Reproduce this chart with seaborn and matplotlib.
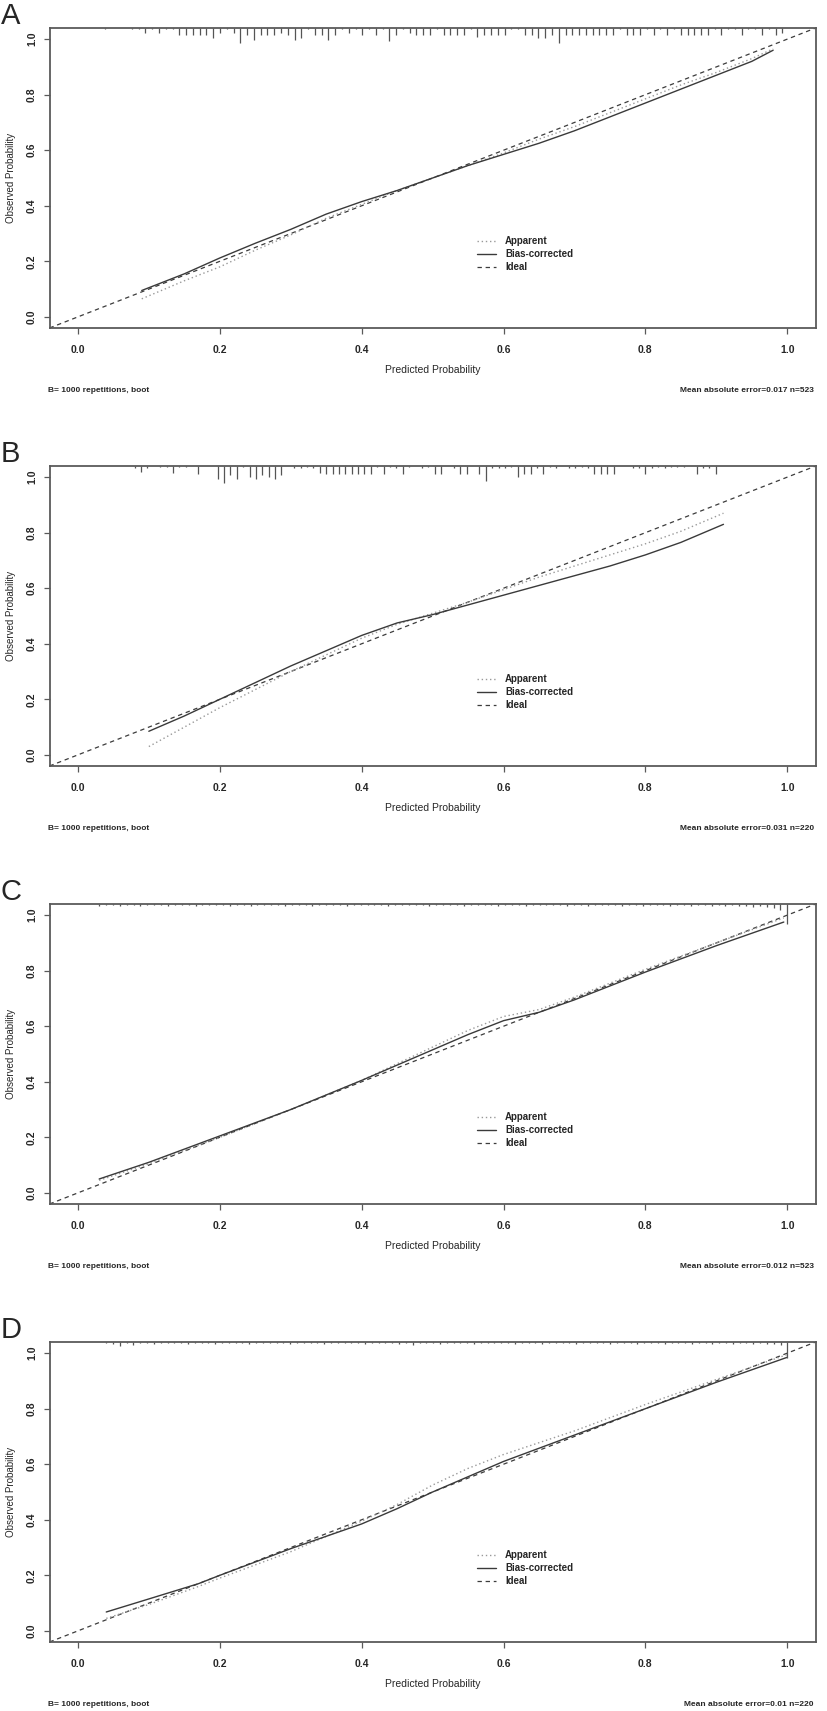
import numpy as np
import pandas as pd
import seaborn as sns
import matplotlib.pyplot as plt
from matplotlib import font_manager
from matplotlib.lines import Line2D

# ---- data ----
panel_labels = ["A", "B", "C", "D"]
footer_right = ["Mean absolute error=0.017 n=523", "Mean absolute error=0.031 n=220",
                "Mean absolute error=0.012 n=523", "Mean absolute error=0.01 n=220"]

# A
pred_a = [0.09, 0.15, 0.20, 0.25, 0.30, 0.35, 0.40, 0.45, 0.50, 0.55, 0.60, 0.65, 0.70, 0.75, 0.80, 0.85, 0.90, 0.95, 0.98]
bias_a = [0.095, 0.155, 0.212, 0.265, 0.315, 0.37, 0.415, 0.455, 0.50, 0.545, 0.585, 0.625, 0.67, 0.72, 0.77, 0.82, 0.87, 0.92, 0.96]
appar_a = [0.065, 0.13, 0.18, 0.24, 0.295, 0.355, 0.405, 0.455, 0.50, 0.545, 0.59, 0.64, 0.685, 0.735, 0.785, 0.835, 0.88, 0.93, 0.965]
# B
pred_b = [0.10, 0.15, 0.20, 0.25, 0.30, 0.35, 0.40, 0.45, 0.50, 0.55, 0.60, 0.65, 0.70, 0.75, 0.80, 0.85, 0.91]
bias_b = [0.085, 0.14, 0.20, 0.26, 0.32, 0.375, 0.43, 0.475, 0.505, 0.54, 0.575, 0.61, 0.645, 0.68, 0.72, 0.765, 0.83]
appar_b = [0.03, 0.10, 0.17, 0.235, 0.30, 0.36, 0.42, 0.47, 0.51, 0.55, 0.595, 0.64, 0.68, 0.72, 0.76, 0.805, 0.87]
# C
pred_c = [0.03, 0.10, 0.20, 0.30, 0.40, 0.45, 0.50, 0.55, 0.60, 0.65, 0.70, 0.80, 0.90, 0.995]
bias_c = [0.05, 0.11, 0.205, 0.30, 0.405, 0.46, 0.515, 0.57, 0.62, 0.65, 0.695, 0.795, 0.89, 0.975]
appar_c = [0.045, 0.105, 0.20, 0.30, 0.405, 0.465, 0.525, 0.585, 0.635, 0.66, 0.705, 0.805, 0.90, 0.99]
# D
pred_d = [0.04, 0.10, 0.17, 0.20, 0.30, 0.40, 0.45, 0.50, 0.55, 0.60, 0.70, 0.80, 0.90, 1.0]
bias_d = [0.068, 0.115, 0.17, 0.20, 0.296, 0.385, 0.44, 0.50, 0.555, 0.61, 0.705, 0.80, 0.895, 0.985]
appar_d = [0.045, 0.095, 0.16, 0.19, 0.285, 0.395, 0.455, 0.525, 0.585, 0.635, 0.72, 0.815, 0.905, 0.995]

# rug of predicted probabilities (spike length in pixels per bin)
rug_start = [0.038, 0.080, 0.030, 0.040]
rug_step = [0.00955, 0.0090, 0.0097, 0.0096]
rug_a = [1, 0, 0, 0, 1, 1, 5, 1, 5, 1, 1, 7, 7, 7, 7, 7, 10, 5, 1, 5,
         15, 7, 12, 7, 7, 7, 5, 7, 12, 10, 1, 7, 7, 12, 7, 1, 5, 1, 7, 1,
         7, 1, 13, 7, 1, 5, 7, 7, 7, 1, 7, 7, 7, 7, 1, 9, 7, 7, 7, 7,
         1, 1, 7, 7, 10, 10, 7, 15, 7, 7, 7, 7, 7, 7, 7, 7, 1, 7, 7, 7,
         1, 7, 1, 7, 1, 7, 7, 7, 7, 7, 1, 7, 1, 1, 7, 1, 1, 7, 1, 7, 5]
rug_b = [2, 6, 2, 0, 1, 1, 7, 1, 1, 0, 8, 0, 0, 13, 17, 9, 13, 1, 11, 13,
         9, 11, 13, 9, 0, 2, 2, 1, 2, 7, 8, 8, 8, 8, 8, 8, 8, 8, 1, 8,
         1, 2, 8, 1, 0, 2, 1, 8, 8, 0, 2, 8, 8, 0, 8, 15, 2, 2, 2, 1,
         11, 8, 8, 2, 8, 1, 2, 0, 2, 2, 1, 2, 8, 8, 8, 8, 0, 0, 2, 2,
         8, 2, 1, 2, 1, 1, 1, 0, 8, 2, 2, 8]
rug_c = [2, 1, 1, 2, 1, 1, 2, 1, 1, 1, 2, 1, 1, 1, 2, 1, 1, 1, 1, 2,
         1, 1, 2, 1, 1, 1, 1, 2, 1, 1, 1, 2, 1, 1, 1, 1, 2, 1, 1, 1,
         1, 1, 2, 1, 1, 1, 1, 1, 2, 1, 1, 1, 1, 2, 1, 1, 1, 1, 2, 1,
         1, 1, 2, 1, 1, 1, 1, 1, 2, 1, 1, 2, 1, 1, 1, 1, 2, 1, 1, 2,
         1, 1, 1, 2, 1, 1, 2, 1, 1, 2, 1, 2, 1, 2, 2, 3, 2, 3, 4, 6, 20]
rug_d = [1, 2, 4, 1, 3, 1, 1, 2, 1, 1, 1, 1, 2, 1, 1, 1, 2, 1, 1, 1,
         1, 2, 1, 1, 1, 1, 1, 2, 1, 1, 1, 1, 2, 1, 1, 1, 1, 1, 2, 1,
         1, 1, 1, 2, 1, 3, 1, 1, 1, 2, 1, 1, 1, 1, 2, 1, 1, 1, 1, 1,
         2, 1, 1, 1, 2, 1, 1, 1, 1, 2, 1, 1, 1, 1, 2, 1, 1, 1, 2, 1,
         1, 1, 2, 1, 1, 1, 2, 1, 1, 2, 1, 1, 2, 1, 1, 2, 1, 2, 2, 3, 16]

preds = [pred_a, pred_b, pred_c, pred_d]
biases = [bias_a, bias_b, bias_c, bias_d]
apparents = [appar_a, appar_b, appar_c, appar_d]
rugs = [rug_a, rug_b, rug_c, rug_d]
ticks = [0.0, 0.2, 0.4, 0.6, 0.8, 1.0]

sns.set_theme(style="white")
avail = {f.name for f in font_manager.fontManager.ttflist}
narrow = "Liberation Sans Narrow" if "Liberation Sans Narrow" in avail else "Liberation Sans"
plt.rcParams["font.family"] = ["Liberation Sans", "DejaVu Sans"]

W, H = 827, 1711
fig = plt.figure(figsize=(W / 100, H / 100), dpi=100)
lo, hi = -0.04, 1.04
px = (hi - lo) / 300.0
axis_col = "#5a5a5a"

for i in range(4):
    top = 28 + i * 438
    bottom = top + 300
    ax = fig.add_axes([49.5 / W, 1 - bottom / H, 766.2 / W, 300 / H])

    ax.axline((0, 0), slope=1, color="#3c3c3c", lw=0.9, ls=(0, (3.5, 3)))
    df = pd.DataFrame({"pred": preds[i], "bias": biases[i], "apparent": apparents[i]})
    sns.lineplot(data=df, x="pred", y="apparent", ax=ax, color="#999999", lw=1.0,
                 linestyle=(0, (1, 2)), sort=False, estimator=None)
    sns.lineplot(data=df, x="pred", y="bias", ax=ax, color="#3a3a3a", lw=1.0,
                 sort=False, estimator=None)

    rug = np.array(rugs[i], dtype=float)
    xs = rug_start[i] + rug_step[i] * np.arange(len(rug))
    keep = rug > 0
    ax.vlines(xs[keep], hi - rug[keep] * px, hi, color="#555555", lw=0.9)

    ax.set_xlim(lo, hi)
    ax.set_ylim(lo, hi)
    ax.set_xticks(ticks)
    ax.set_yticks(ticks)
    ax.set_xticklabels([f"{t:.1f}" for t in ticks], fontsize=7.5, fontweight="bold")
    ax.set_yticklabels([f"{t:.1f}" for t in ticks], fontsize=7.5, fontweight="bold",
                       rotation=90, va="center")
    ax.tick_params(axis="both", direction="out", length=4, width=0.9, color=axis_col,
                   bottom=True, left=True, top=False, right=False)
    ax.tick_params(axis="x", pad=8)
    ax.tick_params(axis="y", pad=5)
    ax.set_xlabel("")
    ax.set_ylabel("")
    for s in ax.spines.values():
        s.set_color(axis_col)
        s.set_linewidth(1.3)

    handles = [Line2D([], [], color="#999999", lw=1.0, ls=(0, (1, 2))),
               Line2D([], [], color="#3a3a3a", lw=1.0),
               Line2D([], [], color="#3c3c3c", lw=0.9, ls=(0, (3.5, 3)))]
    ax.legend(handles, ["Apparent", "Bias-corrected", "Ideal"], loc="upper left",
              bbox_to_anchor=(0.5626, 0.29), bbox_transform=ax.transData,
              frameon=False, borderpad=0, borderaxespad=0, handlelength=2.0,
              handletextpad=0.9, labelspacing=0.3,
              prop={"size": 7, "weight": "bold", "family": narrow})

    fig.text(1 / W, 1 - (top - 26) / H, panel_labels[i], fontsize=21, ha="left", va="top")
    fig.text(11 / W, 1 - (top + 150) / H, "Observed Probability", rotation=90,
             ha="center", va="center", fontsize=7)
    fig.text(432.6 / W, 1 - (bottom + 42) / H, "Predicted Probability",
             ha="center", va="center", fontsize=7.5)
    fig.text(48 / W, 1 - (bottom + 63) / H, "B= 1000 repetitions, boot",
             ha="left", va="center", fontsize=6, fontweight="bold", family=narrow)
    fig.text(814 / W, 1 - (bottom + 63) / H, footer_right[i],
             ha="right", va="center", fontsize=6, fontweight="bold", family=narrow)

fig.savefig("out.png", dpi=100)
